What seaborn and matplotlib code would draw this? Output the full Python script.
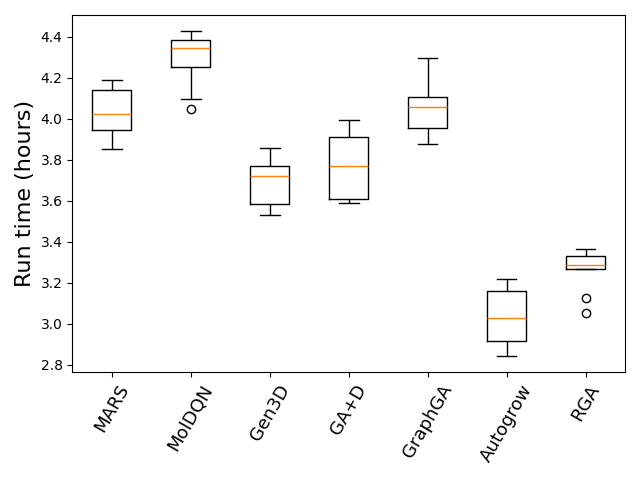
import pandas as pd
import matplotlib
matplotlib.use("Agg")
import matplotlib.pyplot as plt
import seaborn as sns

# run times per method (hours)
methods = ["MARS", "MolDQN", "Gen3D", "GA+D", "GraphGA", "Autogrow", "RGA"]
mars = [3.855, 3.90, 3.948, 3.99, 4.025, 4.08, 4.142, 4.17, 4.192]
moldqn = [4.046, 4.099, 4.255, 4.30, 4.347, 4.36, 4.386, 4.41, 4.428]
gen3d = [3.532, 3.55, 3.585, 3.65, 3.719, 3.74, 3.771, 3.81, 3.856]
gad = [3.590, 3.60, 3.609, 3.70, 3.768, 3.85, 3.913, 3.95, 3.993]
graphga = [3.879, 3.92, 3.954, 4.00, 4.060, 4.08, 4.109, 4.20, 4.295]
autogrow = [2.845, 2.88, 2.917, 2.97, 3.030, 3.10, 3.160, 3.19, 3.220]
rga = [3.053, 3.126, 3.267, 3.27, 3.287, 3.30, 3.331, 3.34, 3.366]

series = [mars, moldqn, gen3d, gad, graphga, autogrow, rga]
df = pd.DataFrame({
    "method": [m for m, vals in zip(methods, series) for _ in vals],
    "hours": [v for vals in series for v in vals],
})

fig, ax = plt.subplots(figsize=(6.4, 4.8), dpi=100)
sns.boxplot(
    data=df, x="method", y="hours", order=methods, ax=ax,
    width=0.5, fill=False, color="black", linecolor="black", linewidth=1,
    medianprops={"color": "#ff7f0e", "linewidth": 1},
    flierprops={"marker": "o", "markerfacecolor": "none",
                "markeredgecolor": "black", "markersize": 6},
    whis=1.5,
)
ax.set_xlabel("")
ax.set_ylabel("Run time (hours)", fontsize=16)
ax.tick_params(axis="x", labelsize=13, rotation=60)
plt.tight_layout()
plt.savefig("out.png", dpi=100)
plt.close()
